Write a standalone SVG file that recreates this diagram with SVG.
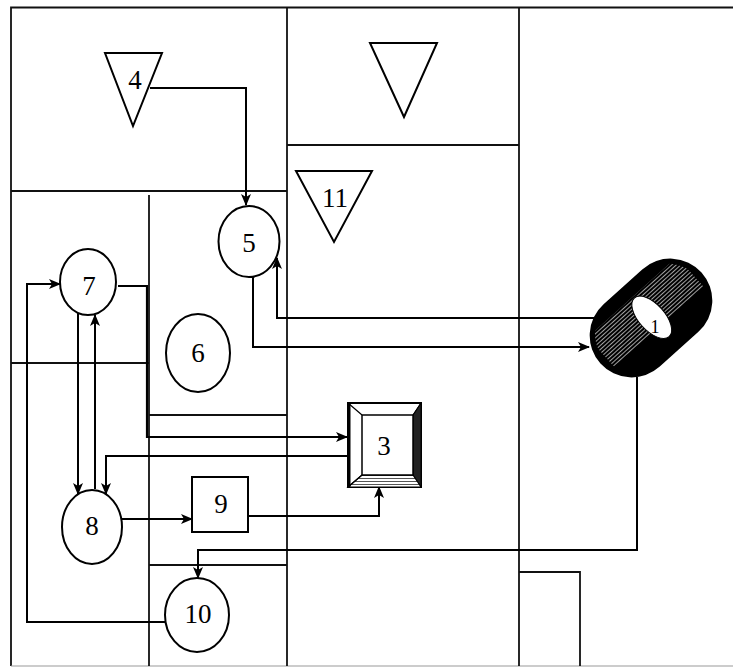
<svg xmlns="http://www.w3.org/2000/svg" width="733" height="668" viewBox="0 0 733 668">
<defs>
<style>
.wall{stroke:#111;stroke-width:1.8;fill:none}
.edge{stroke:#000;stroke-width:2;fill:none;marker-end:url(#ah)}
.node{stroke:#000;stroke-width:2;fill:#fff}
.lbl{font-family:"Liberation Serif","Times New Roman",serif;font-size:27px;fill:#000;text-anchor:middle}
</style>
<marker id="ah" markerUnits="userSpaceOnUse" markerWidth="12" markerHeight="10" refX="11" refY="5" orient="auto">
<path d="M0,0 L12,5 L0,10 L3,5 z" fill="#000"/>
</marker>
<clipPath id="capclip"><rect x="-62" y="-39" width="124" height="78" rx="39"/></clipPath>
<pattern id="hatch" width="4" height="3" patternUnits="userSpaceOnUse"><rect width="4" height="3" fill="#000"/><line x1="0" y1="1.5" x2="4" y2="1.5" stroke="#ccc" stroke-width="0.8"/></pattern>
<pattern id="grain" width="3" height="3" patternUnits="userSpaceOnUse"><rect width="3" height="3" fill="#fff"/><line x1="0" y1="1.5" x2="3" y2="1.5" stroke="#555" stroke-width="1"/></pattern>
</defs>
<rect width="733" height="668" fill="#fff"/>
<g id="walls">
<path class="wall" d="M733,7.5 H11 V666"/>
<path d="M11,666 H733" stroke="#999" stroke-width="1.2" fill="none"/>
<path class="wall" d="M11,191 H287"/>
<path class="wall" d="M287,7 V666"/>
<path class="wall" d="M287,145 H519"/>
<path class="wall" d="M519,7 V666"/>
<path class="wall" d="M149,195 V666"/>
<path class="wall" d="M11,363 H149"/>
<path class="wall" d="M149,415 H287"/>
<path class="wall" d="M149,565 H287"/>
<path class="wall" d="M519,572 H580 V666"/>
</g>
<g id="connectors">
<path class="edge" d="M150,88 H246 V205"/>
<path class="edge" d="M253,277 V347 H589"/>
<path class="edge" d="M595,318 H277 V258"/>
<path class="edge" d="M118,286 H147 V437 H347" style="stroke-width:2.2"/>
<path class="edge" d="M348,456 H106 V494"/>
<path class="edge" d="M78,313 V494"/>
<path class="edge" d="M95,489 V315"/>
<path class="edge" d="M122,519 H192"/>
<path class="edge" d="M248,516 H379 V487"/>
<path class="edge" d="M637,377 V550 H198 V578"/>
<path class="edge" d="M165,622 H27 V284 H60"/>
</g>
<g id="node4">
<path class="node" d="M105,53 H162 L133,126 z"/>
<text class="lbl" x="135" y="89">4</text>
</g>
<g id="nodeTri">
<path class="node" d="M370,43 H437 L404,117 z"/>
</g>
<g id="node11">
<path class="node" d="M296,171 H372 L334,242 z"/>
<text class="lbl" x="335" y="207">11</text>
</g>
<g id="node5">
<ellipse class="node" cx="249" cy="241.5" rx="30.5" ry="35.5"/>
<text class="lbl" x="249" y="252">5</text>
</g>
<g id="node7">
<ellipse class="node" cx="88" cy="282" rx="28" ry="33"/>
<text class="lbl" x="89" y="295">7</text>
</g>
<g id="node6">
<ellipse class="node" cx="198" cy="353" rx="32" ry="39"/>
<text class="lbl" x="198" y="362">6</text>
</g>
<g id="node8">
<ellipse class="node" cx="92" cy="527" rx="30" ry="37"/>
<text class="lbl" x="92" y="535">8</text>
</g>
<g id="node9">
<rect class="node" x="192" y="477" width="56" height="55"/>
<text class="lbl" x="221" y="513">9</text>
</g>
<g id="node10">
<ellipse class="node" cx="197" cy="615" rx="32" ry="37"/>
<text class="lbl" x="198" y="623">10</text>
</g>
<g id="node3">
<rect x="348" y="403" width="73" height="84" fill="#fff" stroke="#000" stroke-width="2"/>
<path d="M413,415 L421,403 V487 L413,475 z" fill="#222" stroke="#000" stroke-width="1"/>
<path d="M362,475 H413 L421,487 H348 z" fill="url(#grain)" stroke="#000" stroke-width="1.2"/>
<path d="M348,403 L362,415 M421,403 L413,415 M348,487 L362,475" stroke="#000" stroke-width="1.2" fill="none"/>
<line x1="349" y1="403" x2="349" y2="487" stroke="#000" stroke-width="3"/>
<rect x="362" y="415" width="51" height="60" fill="#fff" stroke="#000" stroke-width="1.5"/>
<text class="lbl" x="384" y="455">3</text>
</g>
<g id="node1">
<g transform="rotate(-42 651 318)">
<g transform="translate(651 318)">
<rect x="-68" y="-42" width="136" height="84" rx="42" fill="#000"/>
<rect x="-60" y="-28" width="120" height="40" fill="url(#hatch)" clip-path="url(#capclip)"/>
<ellipse cx="1" cy="0" rx="13" ry="26" fill="#fff" stroke="#000" stroke-width="1"/>
</g>
</g>
<text x="655" y="333" style="font-family:'Liberation Serif',serif;font-size:18px" text-anchor="middle">1</text>
</g>
</svg>
